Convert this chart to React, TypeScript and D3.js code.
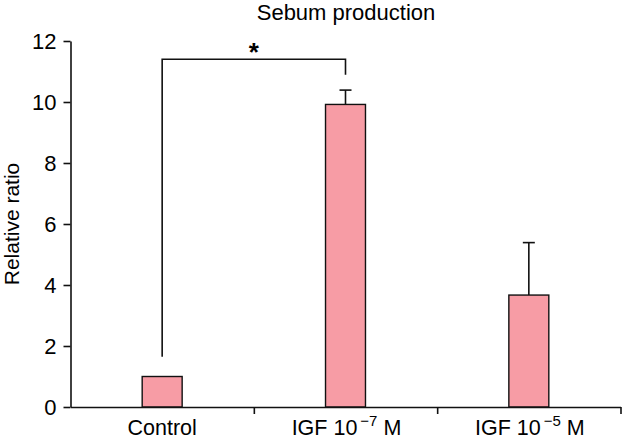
import * as d3 from "d3";
import {useEffect, useRef} from "react";

// chart data
const categories = ["Control", "IGF 10-7 M", "IGF 10-5 M"];
const labelBase = ["IGF 10", "IGF 10"];
const labelExp = ["\u22127", "\u22125"];
const values = [1.0, 9.92, 3.67];
const errors = [0, 0.47, 1.72];
const yTicks = [0, 2, 4, 6, 8, 10, 12];
// significance bracket: [left end, top, right end] in data units
const bracket = [1.65, 11.4, 10.89];

export default function App() {
    const ref = useRef(null); // reference for svg

    useEffect(() => {
        const width = 622;
        const height = 440;
        const svg = d3.select(ref.current);
        svg.attr("width", width).attr("height", height);
        svg.selectAll("*").remove();

        const font = "Arial, 'Liberation Sans', sans-serif";

        // x is the category slot, y is the relative ratio
        const x = d3.scaleBand().domain(categories).range([70.5, 620.5]).padding(0);
        const y = d3.scaleLinear().domain([0, 12]).range([407, 41]);
        const barW = x.bandwidth() * 0.218;
        const cx = (c) => x(c) + x.bandwidth() / 2;

        // title
        svg.append("text")
            .attr("x", 346).attr("y", 20)
            .attr("text-anchor", "middle")
            .attr("font-family", font).attr("font-size", 22)
            .text("Sebum production");

        // y axis label
        svg.append("text")
            .attr("transform", "translate(19,224) rotate(-90)")
            .attr("text-anchor", "middle")
            .attr("font-family", font).attr("font-size", 21)
            .text("Relative ratio");

        // bars
        svg.selectAll(".bar").data(categories).enter().append("rect")
            .attr("x", c => cx(c) - barW / 2)
            .attr("y", (c, i) => y(values[i]))
            .attr("width", barW)
            .attr("height", (c, i) => y(0) - y(values[i]))
            .attr("fill", "#F79CA5")
            .attr("stroke", "#111")
            .attr("stroke-width", 1.4);

        // error bars (upper only)
        categories.forEach((c, i) => {
            if (!errors[i]) return;
            const top = y(values[i] + errors[i]);
            svg.append("line")
                .attr("x1", cx(c)).attr("x2", cx(c))
                .attr("y1", y(values[i])).attr("y2", top)
                .attr("stroke", "#111").attr("stroke-width", 1.6);
            svg.append("line")
                .attr("x1", cx(c) - 6).attr("x2", cx(c) + 6)
                .attr("y1", top).attr("y2", top)
                .attr("stroke", "#111").attr("stroke-width", 1.6);
        });

        // significance bracket between control and IGF 10^-7
        const x1 = cx(categories[0]);
        const x2 = cx(categories[1]);
        svg.append("path")
            .attr("d", d3.line()([[x1, y(bracket[0])], [x1, y(bracket[1])], [x2, y(bracket[1])], [x2, y(bracket[2])]]))
            .attr("fill", "none").attr("stroke", "#111").attr("stroke-width", 1.6);
        svg.append("text")
            .attr("x", (x1 + x2) / 2).attr("y", y(bracket[1]) + 2)
            .attr("text-anchor", "middle")
            .attr("font-family", font).attr("font-size", 26).attr("font-weight", "bold")
            .text("*");

        // y axis
        const yAxis = svg.append("g")
            .attr("transform", "translate(70.5,0)")
            .call(d3.axisLeft(y).tickValues(yTicks).tickSize(7).tickPadding(7).tickSizeOuter(0));
        yAxis.select(".domain").attr("stroke", "#111").attr("stroke-width", 1.6);
        yAxis.selectAll(".tick line").attr("stroke", "#111").attr("stroke-width", 1.6);
        yAxis.selectAll(".tick text")
            .attr("font-family", font).attr("font-size", 22).attr("fill", "#000")
            .attr("dy", "0.36em");

        // x axis: ticks on the slot boundaries
        const xb = d3.scaleLinear().domain([0, categories.length]).range(x.range());
        const xAxis = svg.append("g")
            .attr("transform", `translate(0,${y(0)})`)
            .call(d3.axisBottom(xb).tickValues([1, 2, 3]).tickSize(7).tickSizeOuter(0).tickFormat(() => ""));
        xAxis.select(".domain").attr("stroke", "#111").attr("stroke-width", 1.6);
        xAxis.selectAll(".tick line").attr("stroke", "#111").attr("stroke-width", 1.6);

        // category labels, with superscript exponents
        categories.forEach((c, i) => {
            const t = svg.append("text")
                .attr("x", cx(c) + (i ? 1 : 0)).attr("y", 435)
                .attr("text-anchor", "middle")
                .attr("font-family", font).attr("font-size", 21.5);
            if (i === 0) {
                t.text(c);
                return;
            }
            t.append("tspan").text(labelBase[i - 1]);
            t.append("tspan").attr("dy", -9).attr("dx", 3).attr("font-size", 15).text(labelExp[i - 1]);
            t.append("tspan").attr("dy", 9).text("\u00a0M");
        });

    }, []);

    return <svg ref={ref} style={{position: "absolute", left: 0, top: 0}}></svg>;
}
